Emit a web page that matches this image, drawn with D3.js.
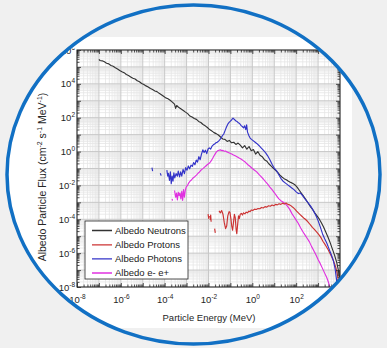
<!DOCTYPE html>
<html>
<head>
<meta charset="utf-8">
<script src="https://cdn.jsdelivr.net/npm/d3@7"></script>
<style>
  html, body { margin: 0; padding: 0; background: #f0f0f0; }
  svg { display: block; font-family: "Liberation Sans", Arial, sans-serif; }
</style>
</head>
<body>
<svg id="chart" width="387" height="348"></svg>
<script>
"use strict";

// NaN breaks a line where the curve has a gap
var neutronExpE = [-7.00,-6.95,-6.85,-6.75,-6.65,-6.55,-6.45,-6.35,-6.25,-6.15,-6.05,-5.95,-5.85,-5.75,-5.65,-5.55,-5.45,-5.35,-5.25,-5.15,-5.05,-4.95,-4.85,-4.75,-4.65,-4.55,-4.45,-4.35,-4.25,-4.15,-4.05,-3.95,-3.85,-3.75,-3.65,-3.55,-3.50,-3.45,-3.35,-3.25,-3.15,-3.05,-2.95,-2.85,-2.75,-2.65,-2.55,-2.45,-2.35,-2.25,-2.15,-2.05,-1.95,-1.85,-1.75,-1.65,-1.55,-1.45,-1.35,-1.25,-1.15,-1.05,-0.95,-0.85,-0.75,-0.65,-0.55,-0.45,-0.35,-0.25,-0.15,-0.05,0.05,0.15,0.25,0.35,0.45,0.55,0.65,0.75,0.85,0.95,1.05,1.15,1.25,1.35,1.45,1.55,1.65,1.75,1.85,1.95,2.05,2.15,2.25,2.35,2.45,2.55,2.65,2.75,2.85,2.95,3.05,3.15,3.25,3.35,3.45,3.55,3.65,3.75,3.85,3.95,4.02];
var neutronExpF = [5.45,5.38,5.36,5.30,5.22,5.18,5.08,5.04,4.95,4.88,4.79,4.72,4.66,4.55,4.49,4.41,4.33,4.29,4.18,4.12,4.02,3.96,3.88,3.82,3.73,3.66,3.58,3.54,3.44,3.36,3.27,3.17,3.12,3.03,2.92,2.80,2.55,2.72,2.60,2.52,2.43,2.33,2.24,2.10,2.04,1.95,1.90,1.78,1.72,1.60,1.52,1.42,1.30,1.22,1.12,1.06,0.98,0.86,0.74,0.72,0.60,0.66,0.52,0.55,0.42,0.50,0.38,0.22,0.35,0.14,0.30,0.05,0.12,-0.15,0.00,-0.22,-0.30,-0.48,-0.55,-0.72,-0.85,-0.98,-1.10,-1.22,-1.38,-1.50,-1.60,-1.66,-1.75,-1.82,-1.88,-1.97,-2.12,-2.30,-2.48,-2.66,-2.85,-3.05,-3.25,-3.42,-3.62,-3.80,-3.98,-4.20,-4.45,-4.75,-5.05,-5.38,-5.75,-6.12,-6.55,-7.15,-7.80];

var protonExpE = [-2.02,-1.99,-1.96,NaN,-1.92,-1.90,-1.88,NaN,-1.72,-1.69,NaN,-1.52,-1.46,-1.40,-1.34,-1.28,-1.22,-1.17,-1.12,-1.06,-1.02,-0.98,-0.94,-0.90,-0.86,-0.82,-0.78,-0.74,-0.71,-0.67,-0.63,-0.59,-0.55,-0.50,-0.45,-0.40,-0.34,-0.28,-0.22,-0.16,-0.10,-0.04,0.02,0.10,0.18,0.26,0.34,0.42,0.50,0.58,0.66,0.74,0.82,0.90,0.98,1.06,1.14,1.22,1.30,1.38,1.46,1.54,1.62,1.70,1.78,1.86,1.94,2.02,2.10,2.18,2.26,2.34,2.42,2.50,2.58,2.66,2.74,2.82,2.90,2.98,3.06,3.14,3.22,3.30,3.38,3.46,3.54,3.62,3.70,3.78,3.84,3.90,3.95,3.98];
var protonExpF = [-3.70,-3.95,-3.80,NaN,-4.05,-3.75,-4.15,NaN,-4.55,-4.80,NaN,-3.50,-3.62,-3.48,-3.70,-4.20,-4.55,-4.40,-3.80,-3.55,-3.60,-3.95,-4.40,-4.65,-4.20,-3.70,-3.90,-4.60,-4.85,-4.30,-3.80,-3.95,-3.70,-3.65,-3.75,-3.62,-3.68,-3.58,-3.62,-3.52,-3.55,-3.45,-3.48,-3.40,-3.42,-3.36,-3.38,-3.30,-3.33,-3.25,-3.28,-3.20,-3.23,-3.16,-3.20,-3.12,-3.15,-3.08,-3.12,-3.05,-3.10,-3.04,-3.12,-3.15,-3.22,-3.30,-3.40,-3.52,-3.62,-3.72,-3.82,-3.92,-4.00,-4.10,-4.22,-4.35,-4.48,-4.58,-4.70,-4.82,-4.95,-5.10,-5.30,-5.45,-5.62,-5.80,-6.00,-6.22,-6.45,-6.72,-7.00,-7.40,-7.85,-8.05];

var photonExpE = [-4.58,-4.55,NaN,-4.20,-4.16,NaN,-3.90,-3.86,-3.83,-3.78,-3.74,-3.70,-3.66,-3.62,-3.58,-3.54,-3.48,-3.42,-3.38,-3.32,-3.27,-3.22,-3.16,-3.10,-3.04,-2.98,-2.92,-2.86,-2.80,-2.74,-2.68,-2.62,-2.56,-2.50,-2.44,-2.38,-2.32,-2.26,-2.20,-2.14,-2.08,-2.02,-1.96,-1.90,-1.84,-1.78,-1.72,-1.66,-1.60,-1.54,-1.48,-1.42,-1.36,-1.30,-1.24,-1.18,-1.12,-1.06,-1.00,-0.94,-0.88,-0.82,-0.76,-0.70,-0.64,-0.58,-0.52,-0.46,-0.40,-0.35,-0.30,-0.26,-0.22,-0.16,-0.10,-0.04,0.02,0.10,0.20,0.30,0.40,0.50,0.60,0.70,0.80,0.90,1.00,1.10,1.20,1.30,1.40,1.50,1.60,1.70,1.80,1.90,2.00,2.10,2.20,2.30,2.40,2.50,2.60,2.70,2.80,2.90,3.00,3.10,3.20,3.30,3.40,3.50,3.60,3.70,3.78,3.84,3.88];
var photonExpF = [-0.95,-1.15,NaN,-1.28,-1.42,NaN,-1.10,-1.45,-1.28,-1.70,-1.20,-1.90,-1.45,-1.75,-1.25,-1.55,-1.30,-1.45,-1.15,-1.50,-1.20,-1.45,-1.05,-1.30,-0.95,-1.10,-0.85,-1.02,-0.80,-0.88,-0.65,-0.78,-0.50,-0.62,-0.30,-0.48,-0.15,0.10,-0.05,0.08,-0.12,0.15,0.22,0.15,0.32,0.40,0.45,0.52,0.55,0.62,0.70,0.82,0.95,1.05,1.25,1.45,1.62,1.72,1.80,1.88,1.97,1.90,1.82,1.78,1.70,1.66,1.55,1.48,1.40,1.52,1.30,1.58,1.15,0.95,0.80,0.72,0.66,0.58,0.48,0.36,0.22,0.08,-0.06,-0.25,-0.48,-0.75,-0.98,-1.12,-1.35,-1.58,-1.75,-1.85,-1.95,-2.05,-2.15,-2.25,-2.38,-2.48,-2.45,-2.62,-2.80,-2.95,-3.12,-3.30,-3.52,-3.78,-4.08,-4.45,-4.85,-5.15,-5.42,-5.75,-6.08,-6.45,-6.95,-7.55,-8.00];

var leptonExpE = [-3.66,-3.64,NaN,-3.55,-3.50,-3.46,-3.42,-3.38,-3.34,-3.30,-3.26,-3.22,-3.18,-3.14,-3.10,-3.06,-3.02,-2.96,-2.90,-2.84,-2.78,-2.72,-2.66,-2.60,-2.54,-2.48,-2.42,-2.36,-2.30,-2.24,-2.18,-2.12,-2.06,-2.00,-1.94,-1.88,-1.82,-1.76,-1.70,-1.64,-1.58,-1.52,-1.46,-1.40,-1.34,-1.28,-1.22,-1.16,-1.10,-1.02,-0.94,-0.86,-0.78,-0.70,-0.60,-0.50,-0.40,-0.30,-0.20,-0.10,0.00,0.10,0.20,0.30,0.40,0.50,0.60,0.70,0.80,0.90,1.00,1.10,1.20,1.30,1.40,1.50,1.60,1.70,1.80,1.90,2.00,2.10,2.20,2.30,2.40,2.50,2.60,2.70,2.80,2.90,3.00,3.10,3.20,3.30,3.40,3.48,3.54];
var leptonExpF = [-2.80,-2.90,NaN,-2.30,-2.70,-2.45,-2.85,-2.40,-2.60,-2.45,-2.80,-2.35,-2.88,-2.25,-2.70,-2.30,-2.10,-2.00,-1.85,-1.75,-1.68,-1.58,-1.52,-1.45,-1.38,-1.28,-1.22,-1.12,-1.05,-0.99,-0.92,-0.85,-0.78,-0.72,-0.66,-0.55,-0.42,-0.28,-0.15,-0.02,0.05,0.08,0.10,0.06,0.07,0.02,0.03,-0.02,-0.05,-0.10,-0.14,-0.20,-0.25,-0.30,-0.38,-0.45,-0.55,-0.65,-0.78,-0.88,-1.00,-1.10,-1.20,-1.35,-1.48,-1.62,-1.78,-1.92,-2.10,-2.25,-2.42,-2.60,-2.78,-2.90,-2.98,-3.08,-3.22,-3.40,-3.65,-3.85,-4.05,-4.25,-4.50,-4.72,-4.92,-5.12,-5.32,-5.60,-5.85,-6.10,-6.38,-6.62,-6.90,-7.18,-7.45,-7.75,-8.05];

var seriesNames = ["Albedo Neutrons", "Albedo Protons", "Albedo Photons", "Albedo e- e+"];
var seriesColors = ["#333333", "#cc3333", "#3333c8", "#e030e0"];
var xTickExps = [-8, -6, -4, -2, 0, 2];
var yTickExps = [-8, -6, -4, -2, 0, 2, 4, 6];

var Draw = (function() {
  var svg = d3.select("#chart");
  var left = 77, right = 340, top = 50, bottom = 287;

  var x = d3.scaleLog().domain([1e-8, 1e4]).range([left, right]),
      y = d3.scaleLog().domain([1e-8, 1e6]).range([bottom, top]);

  var defs = svg.append("defs");
  defs.append("clipPath").attr("id", "oval")
    .append("ellipse").attr("cx", 193.5).attr("cy", 174.5).attr("rx", 186).attr("ry", 169);
  defs.append("clipPath").attr("id", "plotclip")
    .append("rect").attr("x", left).attr("y", top).attr("width", right - left).attr("height", bottom - top);
  // the source figure is cut just above the plot box
  defs.append("clipPath").attr("id", "figcut")
    .append("rect").attr("x", 0).attr("y", 48.5).attr("width", 387).attr("height", 300);

  svg.append("rect").attr("width", 387).attr("height", 348).attr("fill", "#f0f0f0");
  var root = svg.append("g").attr("clip-path", "url(#oval)");
  root.append("rect").attr("x", 0).attr("y", 37).attr("width", 352).attr("height", 291).attr("fill", "#ffffff");

  // decade ticks and the 2..9 minor ticks in between
  var decadesX = d3.range(-8, 5), decadesY = d3.range(-8, 7);
  var minor = function(decs) {
    var out = [];
    decs.slice(0, -1).forEach(k => d3.range(2, 10).forEach(m => out.push(m * Math.pow(10, k))));
    return out;
  };
  var majorX = decadesX.map(k => Math.pow(10, k)), majorY = decadesY.map(k => Math.pow(10, k));
  var minorX = minor(decadesX), minorY = minor(decadesY);

  // grid
  var grid = root.append("g");
  grid.selectAll(".mx").data(minorX).enter().append("line")
    .attr("x1", d => x(d)).attr("x2", d => x(d)).attr("y1", top).attr("y2", bottom)
    .attr("stroke", "#e6e6e6").attr("stroke-width", 0.8);
  grid.selectAll(".my").data(minorY).enter().append("line")
    .attr("y1", d => y(d)).attr("y2", d => y(d)).attr("x1", left).attr("x2", right)
    .attr("stroke", "#e6e6e6").attr("stroke-width", 0.8);
  grid.selectAll(".gx").data(majorX).enter().append("line")
    .attr("x1", d => x(d)).attr("x2", d => x(d)).attr("y1", top).attr("y2", bottom)
    .attr("stroke", "#c8c8c8").attr("stroke-width", 1);
  grid.selectAll(".gy").data(majorY).enter().append("line")
    .attr("y1", d => y(d)).attr("y2", d => y(d)).attr("x1", left).attr("x2", right)
    .attr("stroke", "#c8c8c8").attr("stroke-width", 1);

  // curves
  var line = d3.line()
    .defined(d => !isNaN(d[0]) && !isNaN(d[1]))
    .x(d => x(Math.pow(10, d[0])))
    .y(d => y(Math.pow(10, d[1])));
  var series = [
    d3.zip(neutronExpE, neutronExpF),
    d3.zip(protonExpE, protonExpF),
    d3.zip(photonExpE, photonExpF),
    d3.zip(leptonExpE, leptonExpF)
  ];
  var curves = root.append("g").attr("clip-path", "url(#plotclip)");
  // draw order: neutrons, leptons, protons, photons on top like the picture
  [0, 3, 1, 2].forEach(i => {
    curves.append("path").datum(series[i])
      .attr("d", line).attr("fill", "none")
      .attr("stroke", seriesColors[i]).attr("stroke-width", 1.15)
      .attr("stroke-linejoin", "round");
  });

  // axes, ticks pointing inwards on all four sides
  var axisCol = "#262626";
  var addAxis = function(gen, tx, ty, vals, size) {
    var g = root.append("g").attr("transform", "translate(" + tx + "," + ty + ")")
      .call(gen.tickValues(vals).tickSize(-size).tickSizeOuter(0).tickFormat(""));
    g.select(".domain").remove();
    g.selectAll("line").attr("stroke", axisCol).attr("stroke-width", 0.8);
    return g;
  };
  addAxis(d3.axisBottom(x), 0, bottom, majorX, 4);
  addAxis(d3.axisBottom(x), 0, bottom, minorX, 2.5);
  addAxis(d3.axisTop(x), 0, top, majorX, 4);
  addAxis(d3.axisTop(x), 0, top, minorX, 2.5);
  addAxis(d3.axisLeft(y), left, 0, majorY, 4);
  addAxis(d3.axisLeft(y), left, 0, minorY, 2.5);
  addAxis(d3.axisRight(y), right, 0, majorY, 4);
  addAxis(d3.axisRight(y), right, 0, minorY, 2.5);

  root.append("rect").attr("x", left).attr("y", top)
    .attr("width", right - left).attr("height", bottom - top)
    .attr("fill", "none").attr("stroke", axisCol).attr("stroke-width", 1);

  // tick labels as 10 with a superscript exponent
  var power = function(sel, k) {
    sel.append("tspan").text("10");
    sel.append("tspan").attr("dy", -4).attr("font-size", "6.5px").text(k);
  };
  var labels = root.append("g").attr("clip-path", "url(#figcut)");
  xTickExps.forEach(k => {
    labels.append("text").attr("x", x(Math.pow(10, k)) + 0.5).attr("y", 302.5)
      .attr("text-anchor", "middle").attr("font-size", "9.5px").attr("fill", axisCol)
      .call(power, k);
  });
  yTickExps.forEach(k => {
    labels.append("text").attr("x", 75).attr("y", y(Math.pow(10, k)) + 3.5)
      .attr("text-anchor", "end").attr("font-size", "9.5px").attr("fill", axisCol)
      .call(power, k);
  });

  root.append("text").attr("x", 209).attr("y", 320.5).attr("text-anchor", "middle")
    .attr("font-size", "9.5px").attr("fill", axisCol).text("Particle Energy (MeV)");

  var yl = root.append("text").attr("transform", "translate(46,177) rotate(-90)")
    .attr("text-anchor", "middle").attr("font-size", "10.5px").attr("fill", axisCol);
  yl.append("tspan").text("Albedo Particle Flux (cm");
  yl.append("tspan").attr("dy", -4).attr("font-size", "7px").text("-2");
  yl.append("tspan").attr("dy", 4).text(" s");
  yl.append("tspan").attr("dy", -4).attr("font-size", "7px").text("-1");
  yl.append("tspan").attr("dy", 4).text(" MeV");
  yl.append("tspan").attr("dy", -4).attr("font-size", "7px").text("-1");
  yl.append("tspan").attr("dy", 4).text(")");

  // legend
  var lg = root.append("g");
  lg.append("rect").attr("x", 85).attr("y", 221).attr("width", 103).attr("height", 58)
    .attr("fill", "#ffffff").attr("stroke", axisCol).attr("stroke-width", 0.8);
  var rowY = [230.5, 244.8, 258.8, 273];
  seriesNames.forEach((name, i) => {
    lg.append("line").attr("x1", 92).attr("x2", 112).attr("y1", rowY[i]).attr("y2", rowY[i])
      .attr("stroke", seriesColors[i]).attr("stroke-width", 1.3);
    lg.append("text").attr("x", 115).attr("y", rowY[i]).attr("dy", "0.35em")
      .attr("font-size", "9.5px").attr("fill", "#1a1a1a").text(name);
  });

  // blue ring
  svg.append("ellipse").attr("cx", 193.5).attr("cy", 174.5).attr("rx", 186.5).attr("ry", 169.5)
    .attr("fill", "none").attr("stroke", "#1170c4").attr("stroke-width", 3.5);
});

Draw();
</script>
</body>
</html>
